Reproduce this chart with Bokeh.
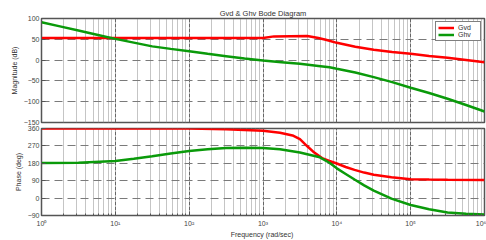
from bokeh.plotting import figure
from bokeh.layouts import column
from bokeh.models import FixedTicker, CustomJSTickFormatter, Legend, LegendItem
from bokeh.embed import file_html
from bokeh.resources import INLINE

# ---- data ----
decades = [0, 1, 2, 3, 4, 5, 6]
mag_ticks = [-150, -100, -50, 0, 50, 100]
phase_ticks = [-90, 0, 90, 180, 270, 360]

gvd_mag_exp = [0, 3.0, 3.15, 3.6, 3.75, 3.85, 4.0, 4.25, 4.5, 4.75, 5.0, 5.25, 5.5, 5.75, 6.0]
gvd_mag = [53, 53, 57, 58, 53, 49, 41.5, 32, 25, 19.5, 15, 10, 5.5, 0.5, -5]

ghv_mag_exp = [0, 0.25, 0.5, 0.75, 1, 1.25, 1.5, 1.75, 2, 2.25, 2.5, 2.75, 3, 3.25, 3.5,
               3.75, 3.9, 4, 4.25, 4.5, 4.75, 5, 5.25, 5.5, 5.75, 6]
ghv_mag = [91, 81, 71, 61, 51, 42, 33, 27, 21.5, 15, 9.5, 4, -1, -5, -9,
           -14, -17, -21, -30, -41, -53, -66.5, -79, -93, -108, -123.5]

gvd_ph_exp = [0, 2, 2.5, 3, 3.23, 3.4, 3.5, 3.6, 3.68, 3.8, 3.9, 4.0, 4.12, 4.24, 4.37, 4.5,
              4.74, 5.0, 5.25, 5.5, 6.0]
gvd_ph = [360, 360, 356.5, 348, 338, 324, 305, 268, 240, 207, 192, 179, 161, 146, 132, 121,
          108, 98, 96, 94.5, 94]

ghv_ph_exp = [0, 0.5, 1, 1.25, 1.5, 1.75, 2, 2.25, 2.5, 2.75, 3, 3.23, 3.5, 3.77, 3.9,
              4.0, 4.12, 4.24, 4.37, 4.5, 4.74, 5.0, 5.25, 5.5, 5.75, 6.0]
ghv_ph = [182, 182.5, 192, 203, 216.6, 231, 244, 253, 259, 261, 259, 253, 236, 211, 183,
          154, 125, 96, 66, 38.6, -3, -36, -58, -74, -81, -85]

RED = "#ff0000"
GREEN = "#0a9a0a"
FONT = "Liberation Sans"
GRID = "#7a7a7a"
FRAME = "#555555"

def f(exps):
    return [10 ** e for e in exps]

major_x = f(decades)
minor_x = [m * 10 ** d for d in decades[:-1] for m in range(2, 10)]

sup_js = """
const sup = {'0':'\u2070','1':'\u00b9','2':'\u00b2','3':'\u00b3','4':'\u2074','5':'\u2075',
             '6':'\u2076','7':'\u2077','8':'\u2078','9':'\u2079','-':'\u207b'};
const e = Math.round(Math.log10(tick));
return '10' + String(e).split('').map(c => sup[c]).join('');
"""

def style(p, yticks):
    p.xaxis.ticker = FixedTicker(ticks=major_x, minor_ticks=minor_x)
    p.yaxis.ticker = FixedTicker(ticks=yticks)
    p.outline_line_color = FRAME
    p.outline_line_width = 1.5
    p.background_fill_color = "white"
    p.border_fill_color = "white"
    p.xgrid.grid_line_color = "#666666"
    p.xgrid.grid_line_dash = "4 1"
    p.xgrid.grid_line_width = 1
    p.xgrid.minor_grid_line_color = "#8a8a8a"
    p.xgrid.minor_grid_line_dash = "1 1"
    p.ygrid.grid_line_color = GRID
    p.ygrid.grid_line_dash = "8 5"
    p.ygrid.grid_line_width = 1
    for ax in p.xaxis + p.yaxis:
        ax.axis_line_color = FRAME
        ax.major_tick_line_color = FRAME
        ax.minor_tick_line_color = FRAME
        ax.major_tick_in = 4
        ax.major_tick_out = 0
        ax.minor_tick_in = 2
        ax.minor_tick_out = 0
        ax.major_label_text_font = FONT
        ax.major_label_text_font_size = "7px"
        ax.major_label_text_color = "#444444"
        ax.axis_label_text_font = FONT
        ax.axis_label_text_font_size = "7px"
        ax.axis_label_text_font_style = "normal"
        ax.axis_label_text_color = "#333333"
        ax.major_label_standoff = 2
        ax.axis_label_standoff = 3

W = 486

p1 = figure(width=W, height=125, x_axis_type="log", x_range=(1, 1e6), y_range=(-150, 100),
            output_backend="svg", toolbar_location=None,
            min_border_left=41, min_border_right=2, min_border_top=18, min_border_bottom=3)
p1.title.text = "Gvd & Ghv Bode Diagram"
p1.title.align = "center"
p1.title.text_font = FONT
p1.title.text_font_size = "7.5px"
p1.title.text_font_style = "normal"
p1.title.text_color = "#333333"
p1.title.standoff = 2
style(p1, mag_ticks)
p1.xaxis.visible = False
p1.yaxis.axis_label = "Magnitude (dB)"
r1 = p1.line(f(gvd_mag_exp), gvd_mag, line_color=RED, line_width=2.5)
r2 = p1.line(f(ghv_mag_exp), ghv_mag, line_color=GREEN, line_width=2.5)
leg = Legend(items=[LegendItem(label="Gvd", renderers=[r1]), LegendItem(label="Ghv", renderers=[r2])],
             location="top_right")
leg.label_text_font = FONT
leg.label_text_font_size = "7px"
leg.label_text_color = "#333333"
leg.border_line_color = "black"
leg.border_line_width = 1.5
leg.glyph_width = 16
leg.glyph_height = 7
leg.label_height = 7
leg.label_standoff = 4
leg.spacing = 0
leg.padding = 2
leg.margin = 3
leg.background_fill_alpha = 1
p1.add_layout(leg)

p2 = figure(width=W, height=115, x_axis_type="log", x_range=(1, 1e6), y_range=(-90, 360),
            output_backend="svg", toolbar_location=None,
            min_border_left=41, min_border_right=2, min_border_top=3, min_border_bottom=2)
style(p2, phase_ticks)
p2.xaxis.formatter = CustomJSTickFormatter(code=sup_js)
p2.xaxis.axis_label = "Frequency  (rad/sec)"
p2.yaxis.axis_label = "Phase (deg)"
p2.xaxis.axis_label_standoff = 1
p2.xaxis.major_label_standoff = 4
p2.line(f(gvd_ph_exp), gvd_ph, line_color=RED, line_width=2.5)
p2.line(f(ghv_ph_exp), ghv_ph, line_color=GREEN, line_width=2.5)

layout = column(p1, p2, spacing=0)
open("out.html", "w").write(file_html(layout, INLINE))
